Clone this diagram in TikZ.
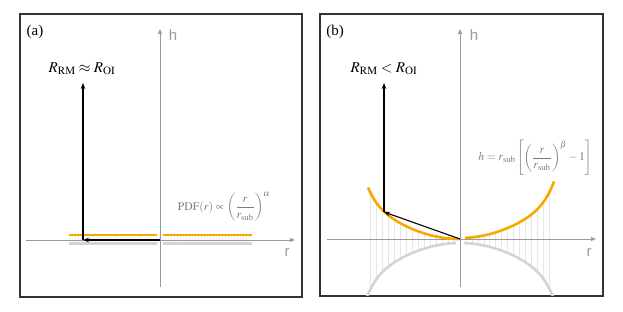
\documentclass[tikz,border=0pt]{standalone}
\usepackage{amsmath}
\usepackage{mathptmx}
\usepackage{fontspec}
\setmainfont{Liberation Serif}
\newfontfamily\axfont{Liberation Sans}
\usetikzlibrary{arrows.meta}
\definecolor{orng}{HTML}{F6AA00}
\definecolor{axgray}{HTML}{9A9A9A}
\definecolor{lgray}{HTML}{D4D4D4}
\definecolor{vlgray}{HTML}{E6E6E6}
\definecolor{txgray}{HTML}{7C7C7C}
\definecolor{frm}{HTML}{333333}
\pgfmathdeclarefunction{hprof}{1}{\pgfmathparse{38*(#1/93)^2+16*(#1/93)^10}}
\tikzset{
  frame/.style={draw=frm, line width=1.5pt},
  axis/.style={draw=axgray, line width=1pt, -{Triangle[length=5pt,width=4pt]}},
  axlabel/.style={text=axgray, font=\axfont\fontsize{15}{15}\selectfont, inner sep=0pt},
  plabel/.style={font=\fontsize{15}{15}\selectfont, inner sep=0pt},
  rlabel/.style={font=\fontsize{15}{15}\selectfont, inner sep=0pt},
  flabel/.style={text=txgray, font=\fontsize{11.7}{13}\selectfont, inner sep=0pt},
  surf/.style={draw=orng, line width=2.6pt},
  base/.style={draw=lgray, line width=2.6pt},
  stick/.style={draw=vlgray, line width=0.6pt},
  vec/.style={draw=black, line width=1.1pt, -{Stealth[length=6pt,width=4.5pt]}}
}
\begin{document}
\begin{tikzpicture}[x=1pt,y=-1pt]
\useasboundingbox (0,0) rectangle (623,312);
% ---------- panel (a)
\draw[frame] (20,14) rectangle (302,297);
\foreach \k in {0,...,60}{
  \draw[stick] ({69+\k*3},236) -- ({69+\k*3+2},244);
}
\draw[base] (69,243.5) -- (157,243.5);
\draw[base] (163,243.5) -- (252,243.5);
\draw[axis] (160,287) -- (160,29);
\draw[axis] (26,240) -- (295,240);
\draw[surf] (69,235) -- (157,235);
\draw[surf] (163,235) -- (252,235);
\node[axlabel] (ha) at (173,35) {h};
\node[axlabel] (ra) at (287,252) {r};
\node[plabel] (pa) at (35,32) {(a)};
\coordinate (oa) at (160,240);
\coordinate (ca) at (83,240);
\coordinate (ta) at (83,83);
\draw[vec] (oa) -- (ca);
\draw[vec] (ca) -- (ta);
\node[rlabel] (la) at (82,69) {$R_{\mathrm{RM}}\approx R_{\mathrm{OI}}$};
\node[flabel] (fa) at (224,207) {$\mathrm{PDF}(r)\propto\left(\dfrac{r}{r_{\mathrm{sub}}}\right)^{\alpha}$};
% ---------- panel (b)
\draw[frame] (320,14) rectangle (603,296);
\begin{scope}
\clip (321,15) rectangle (602,295);
\foreach \k in {1,...,15}{
  \pgfmathsetmacro\dx{\k*5.95}
  \pgfmathsetmacro\hh{hprof(\dx)}
  \draw[stick] ({460-\dx},{239-\hh}) -- ({460-\dx},{243+\hh});
  \draw[stick] ({460+\dx},{239-\hh}) -- ({460+\dx},{243+\hh});
}
\draw[base] plot[domain=4:94,samples=70] ({460-\x},{243+hprof(\x)});
\draw[base] plot[domain=4:95,samples=70] ({460+\x},{243+hprof(\x)});
\end{scope}
\draw[axis] (460,287) -- (460,29);
\draw[axis] (327,239) -- (596,239);
\draw[surf] plot[domain=1:92,samples=70] ({460-\x},{239-hprof(\x)});
\draw[surf] plot[domain=5:94,samples=70] ({460+\x},{238-hprof(\x)});
\node[axlabel] (hb) at (474,35) {h};
\node[axlabel] (rb) at (589,252) {r};
\node[plabel] (pb) at (335,32) {(b)};
\coordinate (ob) at (460,239);
\coordinate (cb) at (384,212);
\coordinate (tb) at (384,83);
\draw[vec] (ob) -- (cb);
\draw[vec] (cb) -- (tb);
\node[rlabel] (lb) at (384,69) {$R_{\mathrm{RM}}< R_{\mathrm{OI}}$};
\node[flabel] (fb) at (535,158) {$h=r_{\mathrm{sub}}\left[\left(\dfrac{r}{r_{\mathrm{sub}}}\right)^{\beta}-1\right]$};
\end{tikzpicture}
\end{document}
